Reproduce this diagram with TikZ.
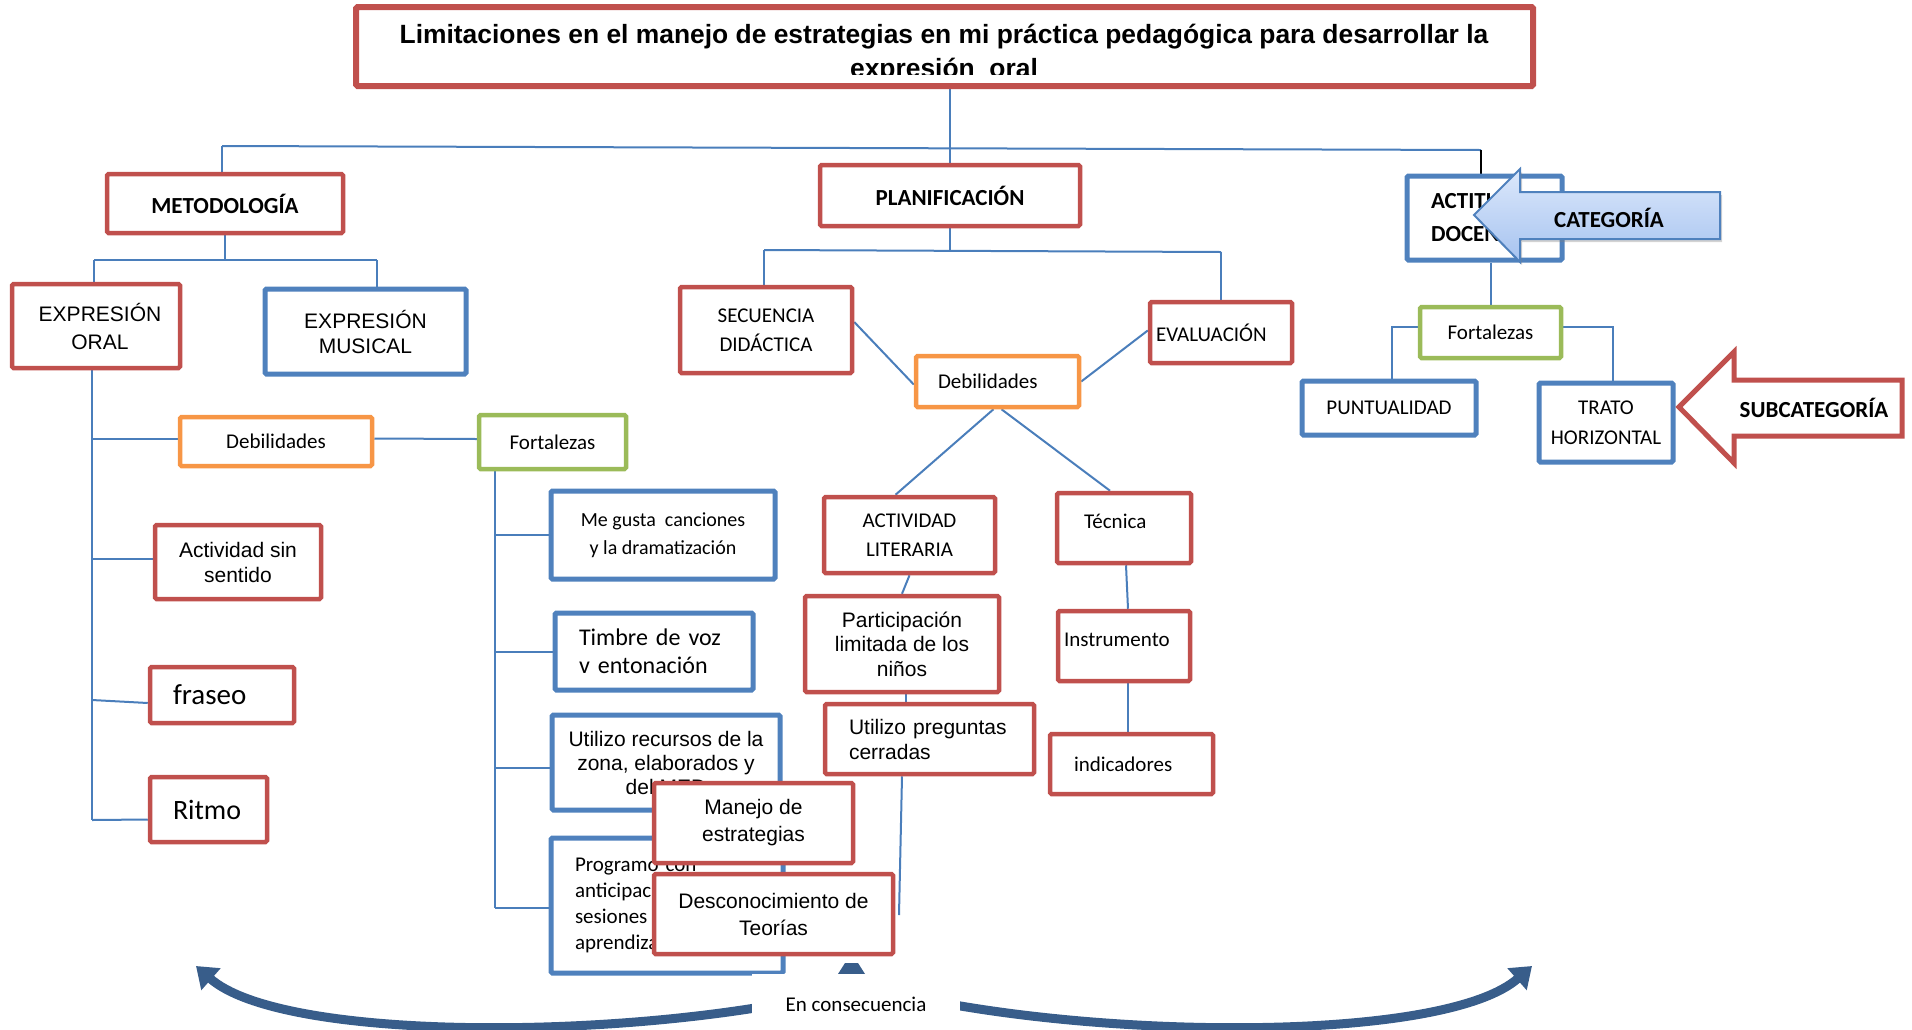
\documentclass[tikz,border=0pt]{standalone}
\usepackage{fontspec}
\setmainfont{Carlito}
\newfontfamily\arial{Liberation Sans}
\usetikzlibrary{arrows.meta,shadows}
\definecolor{cred}{HTML}{C0504D}
\definecolor{cblue}{HTML}{4F81BD}
\definecolor{corange}{HTML}{F79646}
\definecolor{cgreen}{HTML}{9BBB59}
\definecolor{cline}{HTML}{4A7EBB}
\definecolor{cband}{HTML}{385D8A}
\definecolor{ccatA}{HTML}{DCE8FB}
\definecolor{ccatB}{HTML}{A6C3F0}
\newcommand{\fs}[2]{\fontsize{#1}{#2}\selectfont}
\pgfdeclarelayer{bg}
\pgfsetlayers{bg,main}
\begin{document}
\begin{tikzpicture}[x=1pt,y=-1pt,
  bx/.style={draw, line width=4.5, rounded corners=1.5, fill=white, inner sep=0, align=center, font=\fs{21}{25}},
  rbx/.style={bx, draw=cred},
  bbx/.style={bx, draw=cblue, line width=5},
  obx/.style={bx, draw=corange},
  gbx/.style={bx, draw=cgreen},
  con/.style={draw=cline, line width=2},
  band/.style={draw=cband, line width=9},
]
\useasboundingbox (0,0) rectangle (1912,1029);

% ---------- title ----------
\begin{scope}
\clip (357,9) rectangle (1532,74);
\node[font=\arial\bfseries\fs{26.4}{34}, align=center, anchor=base, inner sep=0] (ttext) at (944,77)
  {Limitaciones en el manejo de estrategias en mi práctica pedagógica para desarrollar la\\expresión\ \ oral};
\end{scope}
\node[draw=cred, line width=6, rounded corners=1.5, minimum width=1177, minimum height=79, inner sep=0] (title) at (944.5,46.5) {};

% ---------- level 1 ----------
\node[rbx, font=\bfseries\fs{23}{27}, minimum width=236, minimum height=59] (met) at (225,203.5) {METODOLOGÍA};
\node[rbx, font=\bfseries\fs{23}{27}, minimum width=260, minimum height=61] (plan) at (950,195.5) {PLANIFICACIÓN};
\node[bbx, font=\bfseries\fs{23}{33}, minimum width=155, minimum height=84, text width=107, inner xsep=24, align=left] (act) at (1484.5,218) {ACTITUD\\DOCENTE};

% ---------- metodologia ----------
\node[rbx, font=\arial\fs{21}{28}, minimum width=168, minimum height=84] (eo) at (96,326) {\hspace*{8pt}EXPRESIÓN\\\hspace*{8pt}ORAL};
\node[bbx, font=\arial\fs{21}{25}, minimum width=201, minimum height=85] (em) at (365.5,331.5) {EXPRESIÓN\\MUSICAL};
\node[obx, minimum width=192, minimum height=49] (deb1) at (276,441.5) {Debilidades};
\node[gbx, minimum width=147, minimum height=54] (fort1) at (552.5,442) {Fortalezas};
\node[rbx, font=\arial\fs{21}{25}, minimum width=166, minimum height=74] (asin) at (238,562) {Actividad sin\\sentido};
\node[rbx, font=\fs{29}{33}, minimum width=144, minimum height=56, text width=98, inner xsep=23, align=left] (fras) at (222,695) {fraseo};
\node[rbx, font=\fs{28}{32}, minimum width=117, minimum height=65, text width=71, inner xsep=23, align=left] (ritmo) at (208.5,809.5) {Ritmo};
\node[bbx, font=\fs{20}{28}, minimum width=224, minimum height=88] (megus) at (663,535) {Me gusta\ \ canciones\\y la dramatización};
\node[bbx, font=\fs{24}{28}, minimum width=198, minimum height=77, text width=150, inner xsep=24, align=left] (timb) at (654,651.5) {Timbre de voz\\v entonación};
\node[bbx, font=\arial\fs{21}{24}, minimum width=228, minimum height=95] (urec) at (666,762.5) {Utilizo recursos de la\\zona, elaborados y\\del MED};
\node[bbx, font=\fs{21}{26}, minimum width=232, minimum height=135, text width=184, inner xsep=24, align=left] (prog) at (667,905.5) {Programo con\\anticipación las\\sesiones de\\aprendizaje};
\node[rbx, font=\arial\fs{21}{27}, minimum width=199, minimum height=80] (manejo) at (753.5,823) {Manejo de\\estrategias};
\node[rbx, font=\arial\fs{21}{27}, minimum width=239, minimum height=80] (desc) at (773.5,914) {Desconocimiento de\\Teorías};

% ---------- planificacion ----------
\node[rbx, font=\fs{21}{29}, minimum width=172, minimum height=86] (sec) at (766,330) {SECUENCIA\\DIDÁCTICA};
\node[rbx, minimum width=142, minimum height=61, text width=130, inner xsep=6, align=left] (eval) at (1221,332.5) {EVALUACIÓN};
\node[obx, minimum width=163, minimum height=51, text width=119, inner xsep=22, align=left] (deb2) at (997.5,381.5) {Debilidades};
\node[rbx, font=\fs{21}{29}, minimum width=171, minimum height=76] (actlit) at (909.5,535) {ACTIVIDAD\\LITERARIA};
\node[rbx, minimum width=134, minimum height=70, text width=80, inner xsep=27, align=left] (tec) at (1124,528) {\raisebox{0pt}[0pt][0pt]{Técnica}};
\node[rbx, font=\arial\fs{21}{24.5}, minimum width=194, minimum height=96] (part) at (902,644) {Participación\\limitada de los\\niños};
\node[rbx, font=\arial\fs{21}{25}, minimum width=209, minimum height=70, text width=161, inner xsep=24, align=left] (upreg) at (929.5,739) {Utilizo preguntas\\cerradas};
\node[rbx, minimum width=132, minimum height=70, text width=120, inner xsep=6, align=left] (instr) at (1124,646) {\raisebox{0pt}[0pt][0pt]{Instrumento}};
\node[rbx, minimum width=163, minimum height=60, text width=115, inner xsep=24, align=left] (indic) at (1131.5,764) {indicadores};

% ---------- actitud ----------
\node[gbx, minimum width=141, minimum height=51] (fort2) at (1490.5,332.5) {Fortalezas};
\node[bbx, minimum width=174, minimum height=54] (punt) at (1389,408) {PUNTUALIDAD};
\node[bbx, font=\fs{21}{30}, minimum width=134, minimum height=79] (trato) at (1606,422.5) {TRATO\\HORIZONTAL};

% ---------- block arrows ----------
\path[draw=cblue, line width=2, top color=ccatA, bottom color=ccatB, drop shadow={opacity=0.35, shadow xshift=2pt, shadow yshift=-3pt}]
  (1474,215) -- (1520,169) -- (1520,192) -- (1720,192) -- (1720,239) -- (1520,239) -- (1520,262) -- cycle;
\node[font=\bfseries\fs{23}{27}, inner sep=0] (cat) at (1609,218) {CATEGORÍA};
\path[draw=cred, line width=5, fill=white, line join=miter]
  (1679,407) -- (1734,352) -- (1734,380) -- (1902,380) -- (1902,436) -- (1734,436) -- (1734,463) -- cycle;
\node[font=\bfseries\fs{23}{27}, inner sep=0] (subcat) at (1814,408) {SUBCATEGORÍA};

% ---------- connectors ----------
\begin{pgfonlayer}{bg}
\coordinate (hl) at (222,146);
\coordinate (hr) at (1481,150);
\draw[con] (title.south -| plan.north) -- (plan.north);
\draw[con] (hl) -- (hr);
\draw[con] (hl) -- (hl |- met.north);
\draw[black, line width=1.5] (hr) -- (hr |- act.north);

\coordinate (m1) at (94,260);
\coordinate (m2) at (377,260);
\draw[con] (met.south) -- (met.south |- m1);
\draw[con] (m1) -- (m2);
\draw[con] (m1) -- (m1 |- eo.north);
\draw[con] (m2) -- (m2 |- em.north);

\coordinate (eov) at (92,820);
\draw[con] (eov |- eo.south) -- (eov);
\draw[con] ([yshift=3]deb1.west -| eov) -- ([yshift=3]deb1.west);
\draw[con] ([yshift=3]deb1.east) -- ([yshift=3]fort1.west);
\draw[con] ([yshift=3]asin.west -| eov) -- ([yshift=3]asin.west);
\draw[con] ([yshift=-5]fras.west -| eov) -- ([yshift=-8]fras.west);
\draw[con] (eov) -- ([yshift=-10]ritmo.west);

\coordinate (fv) at (495,908);
\draw[con] (fv |- fort1.south) -- (fv);
\draw[con] (fv |- megus.west) -- (megus.west);
\draw[con] (fv |- timb.west) -- (timb.west);
\draw[con] ([yshift=-5]urec.west -| fv) -- ([yshift=-5]urec.west);
\draw[con] (fv) -- (fv -| prog.west);

\coordinate (p1) at (764,250);
\coordinate (p2) at (1221,252);
\draw[con] (plan.south) -- (plan.south |- p1);
\draw[con] (p1) -- (p2);
\draw[con] (p1) -- (p1 |- sec.north);
\draw[con] (p2) -- (p2 |- eval.north);
\draw[con] ([yshift=8]sec.east) -- ([yshift=-3]deb2.west);
\draw[con] (deb2.east) -- ([yshift=2]eval.west);
\draw[con] ([xshift=-4]deb2.south) -- ([xshift=-14]actlit.north);
\draw[con] ([xshift=4]deb2.south) -- ([xshift=-14]tec.north);
\draw[con] (actlit.south) -- (part.north);
\draw[con] ([xshift=4]part.south) -- ([xshift=4]part.south |- upreg.north);
\coordinate (ue) at (899,915);
\draw[con] ([xshift=-27.5]upreg.south) -- (ue);
\draw[con] ([xshift=2]tec.south) -- ([xshift=4]instr.north);
\draw[con] ([xshift=4]instr.south) -- ([xshift=4]instr.south |- indic.north);

\draw[con] (fort2.north |- act.south) -- (fort2.north);
\coordinate (f2l) at (1392,327);
\coordinate (f2r) at (1613,327);
\draw[con] (fort2.west |- f2l) -- (f2l) -- (f2l |- punt.north);
\draw[con] (fort2.east |- f2r) -- (f2r) -- (f2r |- trato.north);
\end{pgfonlayer}

% ---------- bottom curved arrows ----------
\coordinate (lc) at (800,1000);
\coordinate (ltip) at (196,966);
\coordinate (rc) at (928,1000);
\coordinate (rtip) at (1532,966);
\draw[band, -{Triangle[length=20pt,width=28pt]}] (lc) .. controls (600,1040) and (280,1040) .. (ltip);
\draw[band, -{Triangle[length=20pt,width=28pt]}] (rc) .. controls (1128,1040) and (1448,1040) .. (rtip);
\fill[cband] (845,963) -- (858,963) -- (865,974) -- (838,974) -- cycle;
\node[fill=white, minimum width=208, minimum height=60, inner sep=0, font=\fs{21}{25}] (enc) at (856,1004) {En consecuencia};
\end{tikzpicture}
\end{document}
